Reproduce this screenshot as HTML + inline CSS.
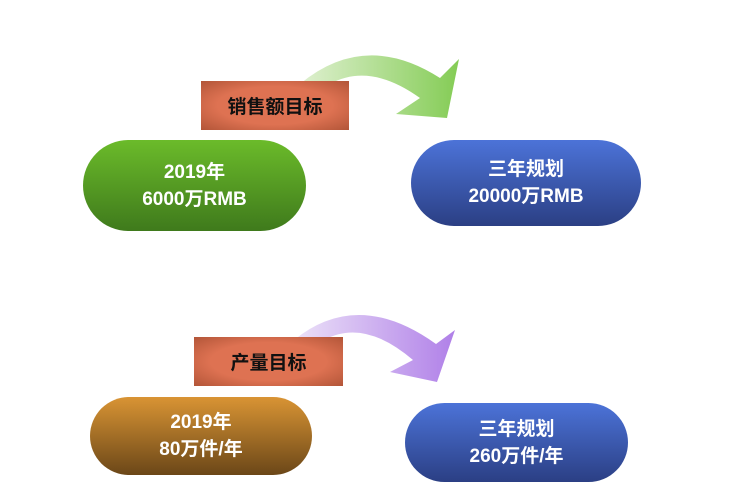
<!DOCTYPE html>
<html><head><meta charset="utf-8"><style>
body{margin:0;width:752px;height:500px;background:#fff;position:relative;overflow:hidden;font-family:"Liberation Sans","Noto Sans CJK SC",sans-serif;}
.p{position:absolute;border-radius:50px;color:#fff;font-weight:bold;font-size:19px;line-height:27px;display:flex;flex-direction:column;align-items:center;justify-content:center;text-align:center;}
.l{position:absolute;background:radial-gradient(ellipse at 50% 50%,#de7252 55%,#b25538 100%);font-weight:bold;font-size:19px;color:#111;display:flex;align-items:center;justify-content:center;}
</style></head><body>
<svg width="752" height="500" style="position:absolute;left:0;top:0">
<defs>
<linearGradient id="g1" x1="0" x2="1"><stop offset="0" stop-color="#dff0d0"/><stop offset="1" stop-color="#84cc55"/></linearGradient>
<linearGradient id="g2" x1="0" x2="1"><stop offset="0" stop-color="#ece2f8"/><stop offset="1" stop-color="#b080e8"/></linearGradient>
</defs>
<path d="M300,84 Q365,30 440,78 L459,59 L447,118 L396,114 L420,98 Q370,62 330,84 Z" fill="url(#g1)"/>
<path d="M294,340 Q358,288 436,344 L455,330 L437,382 L390,372 L413,360 Q364,318 324,340 Z" fill="url(#g2)"/>
</svg>
<div class="l" style="left:201px;top:81px;width:148px;height:49px">销售额目标</div>
<div class="l" style="left:194px;top:337px;width:149px;height:49px">产量目标</div>
<div class="p" style="left:83px;top:140px;width:223px;height:91px;background:linear-gradient(#6bbb2a,#3f7a1c)"><div>2019年</div><div>6000万RMB</div></div>
<div class="p" style="left:411px;top:140px;width:230px;height:86px;background:linear-gradient(#4c73d8,#2b3f84)"><div>三年规划</div><div>20000万RMB</div></div>
<div class="p" style="left:90px;top:397px;width:222px;height:78px;background:linear-gradient(#d99434,#6b4718)"><div>2019年</div><div>80万件/年</div></div>
<div class="p" style="left:405px;top:403px;width:223px;height:79px;background:linear-gradient(#4c73d8,#2b3f84)"><div>三年规划</div><div>260万件/年</div></div>
</body></html>
